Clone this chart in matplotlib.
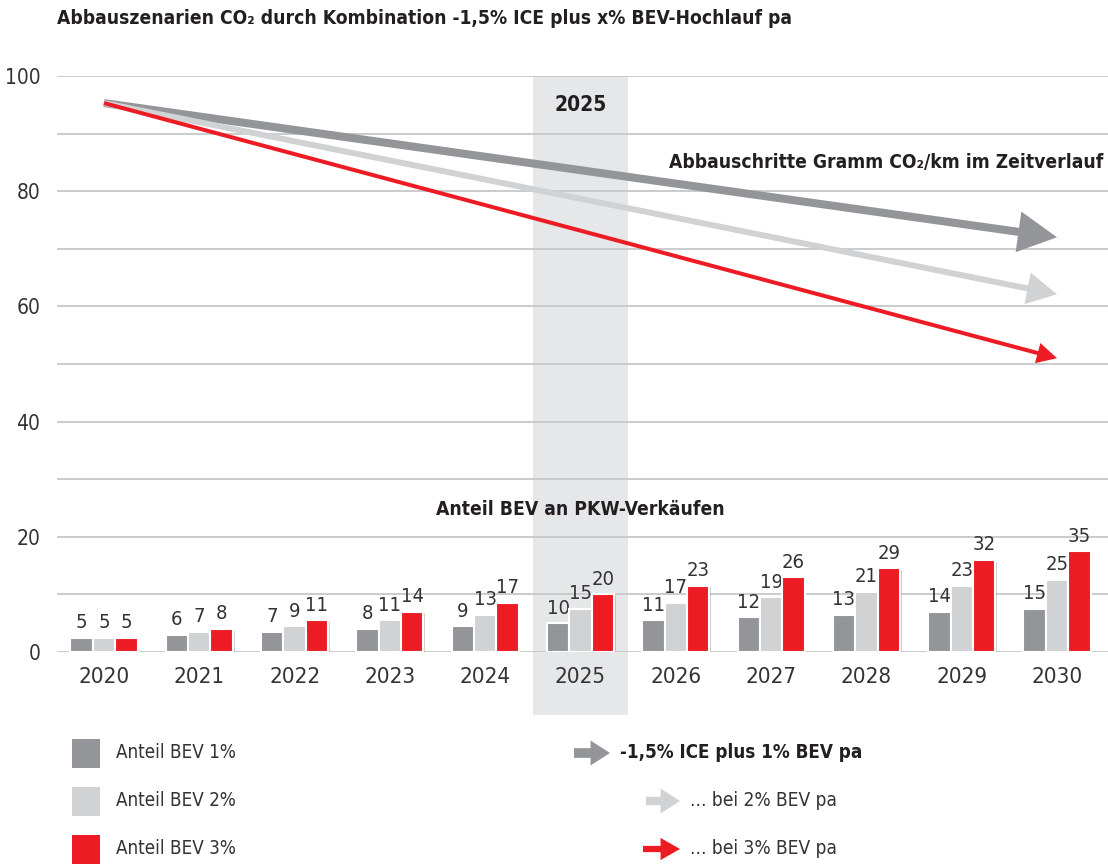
import matplotlib
matplotlib.use('Agg')
import matplotlib.pyplot as plt
import matplotlib.patheffects as pe
from matplotlib.patches import FancyArrowPatch, Rectangle
import numpy as np

plt.rcParams['font.family'] = ['DejaVu Sans']
plt.rcParams['font.stretch'] = 'condensed'

# Data
years = [2020, 2021, 2022, 2023, 2024, 2025, 2026, 2027, 2028, 2029, 2030]
bev_1 = [5, 6, 7, 8, 9, 10, 11, 12, 13, 14, 15]
bev_2 = [5, 7, 9, 11, 13, 15, 17, 19, 21, 23, 25]
bev_3 = [5, 8, 11, 14, 17, 20, 23, 26, 29, 32, 35]
bar_scale = 0.5   # BEV share drawn at half height on the CO2 scale

# CO2 reduction paths (index, start 2020 -> end 2030)
path_years = [2020, 2030]
co2_1 = [95.3, 72.0]
co2_2 = [95.3, 62.1]
co2_3 = [95.3, 51.0]

dark = '#939598'
light = '#d1d2d4'
red = '#ed1c24'
band = '#e6e7e8'
grid = '#c6c7c9'
txt = '#231f20'
tick_col = '#333333'

fig = plt.figure(figsize=(11.08, 8.64), dpi=100)
ax = fig.add_axes([57 / 1108, 212 / 864, 1051 / 1108, 576 / 864])
ax.set_xlim(2019.507, 2030.535)
ax.set_ylim(0, 100)

# highlight 2025
ax.axvspan(2024.5, 2025.5, ymin=-0.109, ymax=1, color=band, zorder=0, clip_on=False, lw=0)

# grid
ax.set_yticks(range(0, 101, 20))
ax.set_yticks(range(10, 100, 20), minor=True)
ax.grid(axis='y', which='both', color=grid, lw=1.3, zorder=1)
for s in ax.spines.values():
    s.set_visible(False)
ax.tick_params(axis='y', which='both', length=0, pad=12, labelsize=15, labelcolor=tick_col)
ax.set_xticks(years)
ax.set_xticklabels([str(y) for y in years])
ax.tick_params(axis='x', length=0, pad=11, labelsize=16, labelcolor=tick_col)

# bars
w = 0.235
x = np.array(years)
shadow = [pe.SimplePatchShadow(offset=(1.2, -1.2), shadow_rgbFace='#777777', alpha=0.35), pe.Normal()]
for off, vals, col in [(-w, bev_1, dark), (0, bev_2, light), (w, bev_3, red)]:
    b = ax.bar(x + off, np.array(vals) * bar_scale, w, color=col, edgecolor='white',
               lw=1.5, zorder=3, path_effects=shadow)
    ax.bar_label(b, labels=[str(v) for v in vals], padding=4, fontsize=14.5, color=tick_col)

# CO2 paths as arrows
arrow_specs = [
    (co2_1, dark, 5.8, 29.5, 28),
    (co2_2, light, 4.3, 23, 21.6),
    (co2_3, red, 2.9, 15, 14.4),
]
for vals, col, tw, hw, hl in arrow_specs:
    a = FancyArrowPatch((path_years[0], vals[0]), (path_years[1], vals[1]),
                        arrowstyle=f'simple,head_length={hl},head_width={hw},tail_width={tw}',
                        mutation_scale=1, color=col, shrinkA=0, shrinkB=0, zorder=4, lw=0)
    ax.add_patch(a)

# annotations
ax.text(2025, 95.0, '2025', ha='center', va='center', fontsize=15, weight='bold', color=txt)
ax.text(2030.48, 84.9, 'Abbauschritte Gramm CO\u2082/km im Zeitverlauf', ha='right', va='center',
        fontsize=13.8, weight='bold', color=txt)
ax.text(2025, 24.8, 'Anteil BEV an PKW-Verkäufen', ha='center', va='center',
        fontsize=13.9, weight='bold', color=txt)

fig.text(57 / 1108, 1 - 19 / 864, 'Abbauszenarien CO\u2082 durch Kombination -1,5% ICE plus x% BEV-Hochlauf pa',
         ha='left', va='center', fontsize=13.8, weight='bold', color=txt)

# legend (pixel coordinates)
lax = fig.add_axes([0, 0, 1, 1])
lax.set_xlim(0, 1108)
lax.set_ylim(864, 0)
lax.axis('off')
leg_rows = [753, 801, 849]
for yy, col, lab in zip(leg_rows, [dark, light, red], ['Anteil BEV 1%', 'Anteil BEV 2%', 'Anteil BEV 3%']):
    lax.add_patch(Rectangle((72, yy - 14.5), 28, 29, color=col, lw=0))
    lax.text(116, yy, lab, ha='left', va='center', fontsize=13.5, color=tick_col)

leg_arrows = [
    (574, 610, dark, 7, 18, 14),
    (646, 680, light, 6, 18, 14),
    (643, 680, red, 4.5, 16, 14),
]
for (x0, x1, col, tw, hw, hl), yy in zip(leg_arrows, leg_rows):
    lax.add_patch(FancyArrowPatch((x0, yy), (x1, yy),
                                  arrowstyle=f'simple,head_length={hl},head_width={hw},tail_width={tw}',
                                  mutation_scale=1, color=col, shrinkA=0, shrinkB=0, lw=0))
lax.text(620, leg_rows[0], '-1,5% ICE plus 1% BEV pa', ha='left', va='center', fontsize=13.5,
         weight='bold', color=txt)
lax.text(690, leg_rows[1], '... bei 2% BEV pa', ha='left', va='center', fontsize=13.7, color=tick_col)
lax.text(690, leg_rows[2], '... bei 3% BEV pa', ha='left', va='center', fontsize=13.7, color=tick_col)

fig.savefig('out.png', dpi=100)
